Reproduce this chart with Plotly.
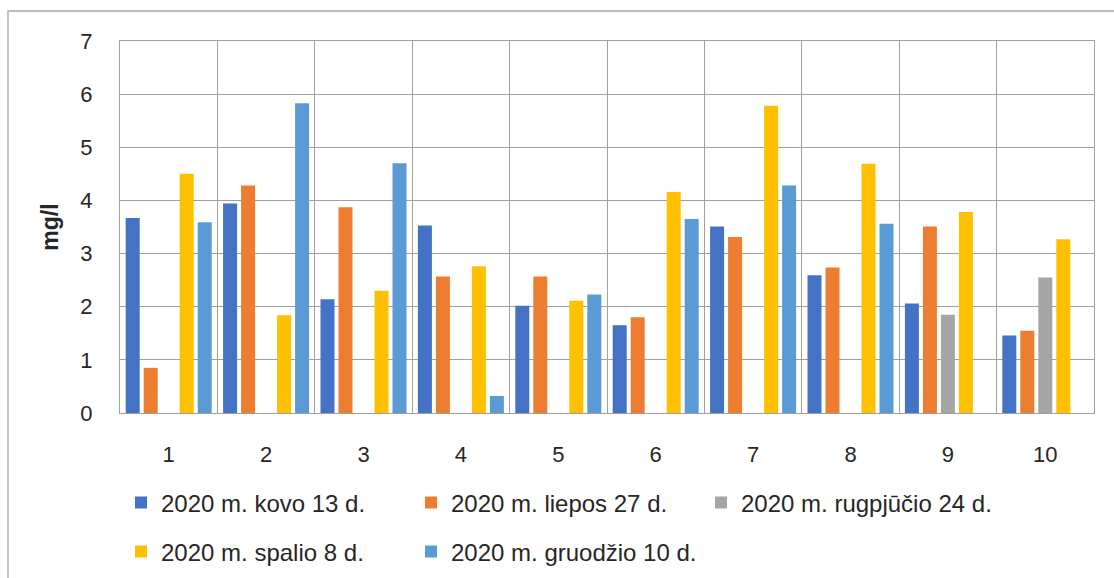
import plotly.graph_objects as go

# Sampling points 1..10
categories = [1, 2, 3, 4, 5, 6, 7, 8, 9, 10]
tick_labels = ["1", "2", "3", "4", "5", "6", "7", "8", "9", "10"]

# Concentration, mg/l, per sampling date
kovo_13 = [3.67, 3.94, 2.14, 3.53, 2.02, 1.65, 3.51, 2.59, 2.06, 1.46]
liepos_27 = [0.85, 4.28, 3.87, 2.57, 2.57, 1.80, 3.31, 2.74, 3.51, 1.55]
rugpjucio_24 = [None, None, None, None, None, None, None, None, 1.85, 2.55]
spalio_8 = [4.50, 1.84, 2.30, 2.76, 2.11, 4.16, 5.78, 4.69, 3.78, 3.27]
gruodzio_10 = [3.59, 5.83, 4.70, 0.32, 2.23, 3.65, 4.28, 3.56, None, None]

series_names = [
    "2020 m. kovo 13 d.",
    "2020 m. liepos 27 d.",
    "2020 m. rugpjūčio 24 d.",
    "2020 m. spalio 8 d.",
    "2020 m. gruodžio 10 d.",
]
series_values = [kovo_13, liepos_27, rugpjucio_24, spalio_8, gruodzio_10]
series_colors = ["#4472C4", "#ED7D31", "#A5A5A5", "#FFC000", "#5B9BD5"]
# first legend row: kovo, liepos, rugpjūčio; second row: spalio, gruodžio
series_legend = ["legend", "legend", "legend", "legend2", "legend2"]

FONT = "Liberation Sans, Arial, sans-serif"
TEXT = "#262626"
GRID = "#A0A0A0"

W, H = 1114, 578
L, R, T, B = 120, 20, 41, 165
plot_w = W - L - R
plot_h = H - T - B

fig = go.Figure()
for name, vals, col, lg in zip(series_names, series_values, series_colors, series_legend):
    fig.add_trace(go.Bar(
        x=categories, y=vals, name=name,
        marker=dict(color=col, line=dict(width=0)),
        legend=lg,
    ))

def px_x(px):
    return (px - L) / plot_w

def px_y(py):
    return (H - B - py) / plot_h

legend_common = dict(
    orientation="h",
    xanchor="left",
    yanchor="middle",
    x=px_x(121),
    entrywidth=245,
    entrywidthmode="pixels",
    font=dict(family=FONT, size=24, color=TEXT),
    bgcolor="rgba(0,0,0,0)",
    borderwidth=0,
    itemclick=False,
)

fig.update_layout(
    width=W, height=H,
    margin=dict(l=L, r=R, t=T, b=B, pad=0, autoexpand=False),
    paper_bgcolor="white",
    plot_bgcolor="white",
    barmode="group",
    bargap=0.076,
    bargroupgap=0.222,
    font=dict(family=FONT, color=TEXT),
    legend=dict(legend_common, y=px_y(503)),
    legend2=dict(legend_common, y=px_y(552)),
    xaxis=dict(
        type="linear",
        range=[0.5, 10.5],
        tickmode="array",
        tickvals=categories,
        ticktext=tick_labels,
        showgrid=False,
        zeroline=False,
        showline=True, mirror=True, linecolor=GRID, linewidth=1.2,
        ticks="",
        ticklabelstandoff=21,
        tickfont=dict(family=FONT, size=22, color=TEXT),
        minor=dict(tick0=0.5, dtick=1, showgrid=True, gridcolor=GRID, gridwidth=1.2, ticks=""),
        fixedrange=True,
    ),
    yaxis=dict(
        range=[0, 7],
        dtick=1,
        showgrid=True, gridcolor=GRID, gridwidth=1.2,
        zeroline=False,
        showline=True, mirror=True, linecolor=GRID, linewidth=1.2,
        ticks="",
        ticklabelstandoff=22,
        tickfont=dict(family=FONT, size=22, color=TEXT),
        title=dict(text="<b>mg/l</b>", font=dict(family=FONT, size=23, color=TEXT), standoff=15),
        fixedrange=True,
    ),
    shapes=[dict(
        type="rect", xref="paper", yref="paper",
        x0=px_x(8), x1=px_x(1125), y0=px_y(11), y1=px_y(595),
        line=dict(color="#A6A6A6", width=1.3),
        fillcolor="rgba(0,0,0,0)", layer="below",
    )],
)

fig.write_html("out.html", config={"displayModeBar": False})
